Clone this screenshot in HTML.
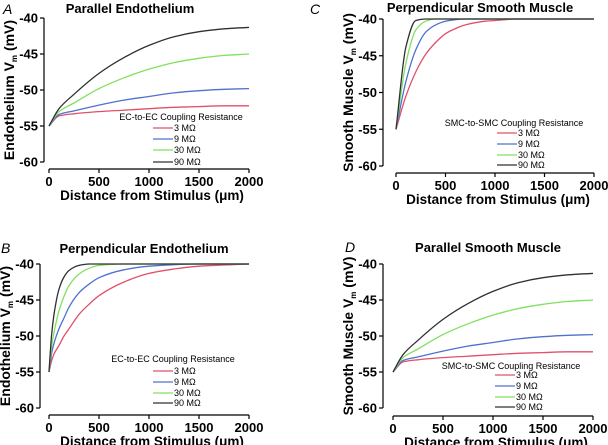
<!DOCTYPE html>
<html><head><meta charset="utf-8"><style>
body{margin:0;background:#fff;width:608px;height:445px;overflow:hidden}
svg{display:block;font-family:"Liberation Sans",sans-serif}
.t{font-weight:bold}
</style></head><body>
<svg id="c" width="608" height="445" viewBox="0 0 608 445"></svg>
<script>
const legendLabels=["3 MΩ","9 MΩ","30 MΩ","90 MΩ"];
const colors=["#e0506a","#5070d0","#80e060","#303030"];
const xTicks=[0,500,1000,1500,2000];
const yTicks=[-40,-45,-50,-55,-60];
const parDist=[0,100,250,500,750,1000,1250,1500,1750,2000];
const par3=[-55,-53.6,-53.3,-53.0,-52.8,-52.6,-52.4,-52.3,-52.2,-52.2];
const par9=[-55,-53.4,-52.9,-52.1,-51.4,-50.9,-50.4,-50.1,-49.9,-49.8];
const par30=[-55,-53.0,-51.8,-49.8,-48.3,-47.1,-46.2,-45.6,-45.2,-45.0];
const par90=[-55,-52.6,-50.6,-47.7,-45.5,-43.8,-42.6,-41.9,-41.5,-41.3];
const perpEDist=[0,25,50,100,150,200,300,400,500,750,1000,1250,1500,2000];
const perpE3=[-55,-53.5,-52.5,-51.3,-50,-49,-47,-45.6,-44.4,-42.5,-41.3,-40.7,-40.3,-40];
const perpE9=[-55,-52.5,-51,-49,-47.5,-46,-44,-42.8,-41.9,-40.8,-40.3,-40.1,-40,-40];
const perpE30=[-55,-51.5,-49.5,-46.5,-44.5,-43,-41.4,-40.6,-40.2,-40,-40,-40,-40,-40];
const perpE90=[-55,-50,-47,-43.5,-41.8,-40.9,-40.2,-40,-40,-40,-40,-40,-40,-40];
const perpSDist=[0,100,200,300,400,500,600,700,800,900,1000,1100,1200,2000];
const perpS3=[-55,-50.5,-47.2,-44.8,-43.2,-42,-41.3,-40.8,-40.5,-40.3,-40.2,-40.1,-40,-40];
const perpS9=[-55,-48.5,-44.2,-41.8,-40.8,-40.3,-40.1,-40,-40,-40,-40,-40,-40,-40];
const perpS30=[-55,-46,-41.5,-40.3,-40,-40,-40,-40,-40,-40,-40,-40,-40,-40];
const perpS90=[-55,-43.8,-40.2,-40,-40,-40,-40,-40,-40,-40,-40,-40,-40,-40];

const svg=document.getElementById('c');
const NS='http://www.w3.org/2000/svg';
function mk(tag,attrs,parent,text){const e=document.createElementNS(NS,tag);for(const k in attrs)e.setAttribute(k,attrs[k]);if(text!==undefined)e.textContent=text;(parent||svg).appendChild(e);return e;}

// monotone cubic path
function monoPath(xs,ys){
 const n=xs.length;const dx=[],m=[],t=[];
 for(let i=0;i<n-1;i++){dx[i]=xs[i+1]-xs[i];m[i]=(ys[i+1]-ys[i])/dx[i];}
 t[0]=m[0];t[n-1]=m[n-2];
 for(let i=1;i<n-1;i++){ if(m[i-1]*m[i]<=0)t[i]=0; else t[i]=3*(dx[i-1]+dx[i])/((2*dx[i]+dx[i-1])/m[i-1]+(dx[i]+2*dx[i-1])/m[i]); }
 let d='M'+xs[0].toFixed(1)+','+ys[0].toFixed(1);
 for(let i=0;i<n-1;i++){
  const h=dx[i]/3;
  d+=' C'+(xs[i]+h).toFixed(1)+','+(ys[i]+t[i]*h).toFixed(1)+' '+(xs[i+1]-h).toFixed(1)+','+(ys[i+1]-t[i+1]*h).toFixed(1)+' '+xs[i+1].toFixed(1)+','+ys[i+1].toFixed(1);
 }
 return d;
}

const panels=[
 {id:'a',letter:'A',lx:3,ly:14,title:'Parallel Endothelium',tx:130,ty:13,x0:49,x1:249,yTop:18,yBot:162,axX:44,axY:169,ytitle:'Endothelium V',leg:'EC-to-EC Coupling Resistance',legX:181,legY:120,legE:[128,139,150,162],legL:153,dist:parDist,series:[par3,par9,par30,par90]},
 {id:'c',letter:'C',lx:310,ly:14,title:'Perpendicular Smooth Muscle',tx:480,ty:12,x0:396,x1:594,yTop:19,yBot:166,axX:383,axY:173,ytitle:'Smooth Muscle V',leg:'SMC-to-SMC Coupling Resistance',legX:514,legY:126,legE:[133,144,155,165],legL:497,dist:perpSDist,series:[perpS3,perpS9,perpS30,perpS90]},
 {id:'b',letter:'B',lx:1,ly:253,title:'Perpendicular  Endothelium',tx:144,ty:253,x0:49,x1:249,yTop:264,yBot:408,axX:40,axY:415,ytitle:'Endothelium V',leg:'EC-to-EC Coupling Resistance',legX:173,legY:362,legE:[371,382,393,403],legL:153,dist:perpEDist,series:[perpE3,perpE9,perpE30,perpE90]},
 {id:'d',letter:'D',lx:345,ly:252,title:'Parallel Smooth Muscle',tx:488,ty:252,x0:393,x1:593,yTop:264,yBot:408,axX:383,axY:416,ytitle:'Smooth Muscle V',leg:'SMC-to-SMC Coupling Resistance',legX:511,legY:369,legE:[375,386,397,407],legL:495,dist:parDist,series:[par3,par9,par30,par90]}
];

panels.forEach(p=>{
 const g=mk('g',{});
 
 
 const X=v=>p.x0+(v-0)/2000*(p.x1-p.x0);
 const Y=v=>p.yTop+(v+40)/(-20)*(p.yBot-p.yTop);
 const L=mk('text',{x:p.lx,y:p.ly,'font-size':14,'font-style':'italic'},g,p.letter);
 
 
 const T=mk('text',{x:p.tx,y:p.ty,'font-size':13,'text-anchor':'middle',class:'t'},g,p.title);
 
 
 const ya=mk('line',{x1:p.axX,x2:p.axX,y1:p.yTop,y2:p.yBot,stroke:'#000','stroke-width':1.2},g);
 
 
 const xa=mk('line',{x1:p.x0,x2:p.x1,y1:p.axY,y2:p.axY,stroke:'#000','stroke-width':1.2},g);
 
 
 yTicks.forEach(v=>{
  mk('line',{x1:p.axX-4,x2:p.axX,y1:Y(v),y2:Y(v),stroke:'#000','stroke-width':1.2},g);
  const tl=mk('text',{x:p.axX-6,y:Y(v)+4.5,'font-size':13,'text-anchor':'end',class:'t'},g,String(v));
  
  
 });
 xTicks.forEach(v=>{
  mk('line',{x1:X(v),x2:X(v),y1:p.axY,y2:p.axY+4,stroke:'#000','stroke-width':1.2},g);
  const tl=mk('text',{x:X(v),y:p.axY+17,'font-size':13,'text-anchor':'middle',class:'t'},g,String(v));
  
  
 });
 const xt=mk('text',{x:(p.x0+p.x1)/2+3,y:p.axY+31,'font-size':13.5,'text-anchor':'middle',class:'t'},g,'Distance from Stimulus (μm)');
 
 
 const cy=(p.yTop+p.yBot)/2;
 const yt=mk('text',{x:0,y:0,'font-size':14,'text-anchor':'middle',class:'t',transform:`translate(${p.axX-30},${cy}) rotate(-90)`},g);
 
 
 yt.appendChild(document.createTextNode(p.ytitle));
 mk('tspan',{'font-size':8,dy:3},yt,'m');
 mk('tspan',{dy:-3},yt,' (mV)');
 p.series.forEach((s,i)=>{
  const xs=p.dist.map(X), ys=s.map(Y);
  const pl=mk('path',{d:monoPath(xs,ys),fill:'none',stroke:colors[i],'stroke-width':1.3,'stroke-linejoin':'round'},g);
  
  
 });
 const lt=mk('text',{x:p.legX,y:p.legY,'font-size':9,'text-anchor':'middle'},g,p.leg);
 
 
 legendLabels.forEach((lab,i)=>{
  const y=p.legE[i];
  const le=mk('g',{},g);
  
  
  mk('line',{x1:p.legL,x2:p.legL+20,y1:y,y2:y,stroke:colors[i],'stroke-width':1.3},le);
  mk('text',{x:p.legL+21,y:y+3,'font-size':9},le,lab);
 });
});
</script>
</body></html>
